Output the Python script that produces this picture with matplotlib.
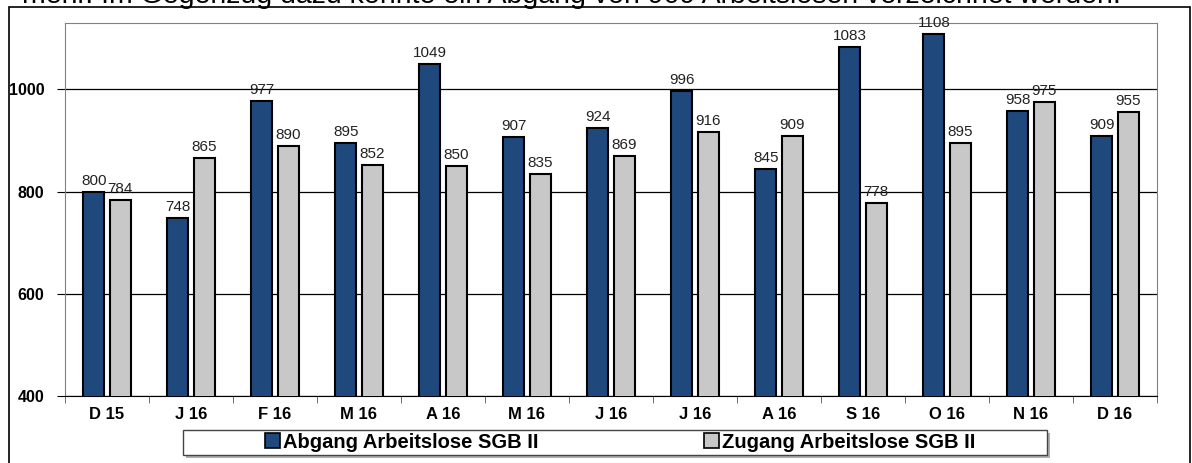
import numpy as np
import matplotlib.pyplot as plt
from matplotlib.patches import Rectangle

plt.rcParams['font.family'] = ['Liberation Sans', 'DejaVu Sans']

months = ['D 15', 'J 16', 'F 16', 'M 16', 'A 16', 'M 16', 'J 16',
          'J 16', 'A 16', 'S 16', 'O 16', 'N 16', 'D 16']
abgang = [800, 748, 977, 895, 1049, 907, 924, 996, 845, 1083, 1108, 958, 909]
zugang = [784, 865, 890, 852, 850, 835, 869, 916, 909, 778, 895, 975, 955]
series_names = ['Abgang Arbeitslose SGB II', 'Zugang Arbeitslose SGB II']

dark = '#1f497d'
light = '#c8c8c8'

W, H = 1192, 463
fig = plt.figure(figsize=(W / 100, H / 100), dpi=100)

# outer frame of the embedded chart
fig.patches.append(Rectangle((9 / W, -0.1), 1181 / W, 1.1 - 7 / H,
                             transform=fig.transFigure, fill=False,
                             edgecolor='black', linewidth=1.2))
# cut-off line of the surrounding text
fig.text(22 / W, 1 - 3 / H,
         'mehr. Im Gegenzug dazu konnte ein Abgang von 909 Arbeitslosen verzeichnet werden.',
         fontsize=20.5, va='baseline', ha='left')

ax = fig.add_axes([65 / W, 67 / H, 1092 / W, 373 / H])

x = np.arange(len(months))
w = 0.25
off = 0.155
b1 = ax.bar(x - off, abgang, w, color=dark, edgecolor='black', linewidth=1.5,
            label=series_names[0], zorder=3)
b2 = ax.bar(x + off, zugang, w, color=light, edgecolor='black', linewidth=1.5,
            label=series_names[1], zorder=3)

for xi, v in zip(x - off, abgang):
    ax.text(xi, v + 8, str(v), ha='center', va='bottom', fontsize=11, color='#222222', zorder=4)
for xi, v in zip(x + off, zugang):
    ax.text(xi, v + 8, str(v), ha='center', va='bottom', fontsize=11, color='#222222', zorder=4)

ax.set_xlim(-0.5, len(months) - 0.5)
ax.set_ylim(400, 1130)
ax.set_yticks([400, 600, 800, 1000])
ax.yaxis.grid(True, color='black', linewidth=0.9, zorder=0)
ax.set_xticks(x)
ax.set_xticklabels(months, fontweight='bold', fontsize=12)
ax.set_xticks(np.arange(-0.5, len(months)), minor=True)
ax.tick_params(axis='x', which='major', length=0, pad=8)
ax.tick_params(axis='x', which='minor', length=5, color='#555555')
ax.tick_params(axis='y', length=6, labelsize=11.5, pad=9)
for lab in ax.get_yticklabels():
    lab.set_fontweight('bold')

for s in ['left', 'top', 'right']:
    ax.spines[s].set_color('#808080')
ax.spines['bottom'].set_color('black')

# legend box with shadow, drawn by hand so it can be wider than its entries
fig.patches.append(Rectangle((186 / W, 1 - 458 / H), 864 / W, 25 / H,
                             transform=fig.transFigure, facecolor='#b0b0b0',
                             edgecolor='none', zorder=1))
fig.patches.append(Rectangle((183 / W, 1 - 455 / H), 864 / W, 25 / H,
                             transform=fig.transFigure, facecolor='white',
                             edgecolor='#444444', linewidth=1.0, zorder=2))
leg = fig.legend(handles=[b1, b2], loc='center', ncol=2,
                 bbox_to_anchor=(620 / W, 1 - 442 / H),
                 prop={'weight': 'bold', 'size': 14.5},
                 frameon=False,
                 handlelength=0.75, handleheight=0.75, handletextpad=0.15,
                 columnspacing=8.2, borderpad=0.2)
leg.set_zorder(5)
for h in leg.legend_handles:
    h.set_linewidth(1.2)

fig.savefig('out.png', dpi=100)
